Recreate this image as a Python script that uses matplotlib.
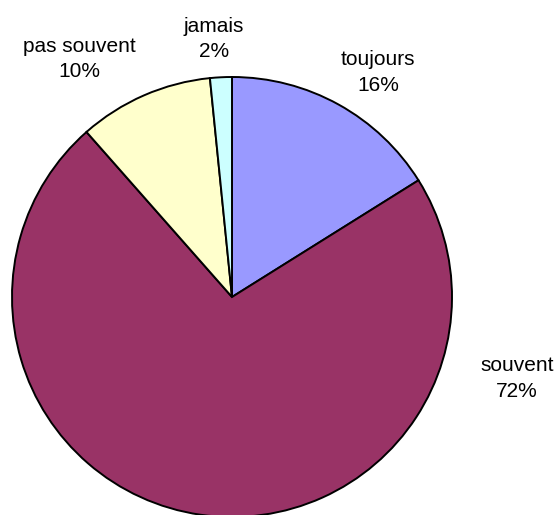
import matplotlib.pyplot as plt

plt.rcParams['font.family'] = ['Liberation Sans', 'DejaVu Sans']

# answers and their shares (percent)
categories = ["toujours", "souvent", "pas souvent", "jamais"]
values = [16.1, 72.4, 9.9, 1.6]
shown_pct = [16, 72, 10, 2]
colors = ["#9999FF", "#993366", "#FFFFCC", "#CCFFFF"]

# label anchor points (layout only)
label_xy = [(0.664, 1.02), (1.295, -0.37), (-0.695, 1.082), (-0.082, 1.173)]

fig = plt.figure(figsize=(5.57, 5.15), dpi=100)
ax = fig.add_axes([0, 0, 1, 1])

wedges, _ = ax.pie(values, colors=colors, startangle=90, counterclock=False,
                   wedgeprops=dict(edgecolor="black", linewidth=1.4))

for name, pct, (x, y) in zip(categories, shown_pct, label_xy):
    ax.text(x, y, f"{name}\n{pct}%", ha="center", va="center",
            fontsize=15, linespacing=1.45)

ax.set_aspect("equal")
ax.set_xlim(-232 / 220, (557 - 232) / 220)
ax.set_ylim(-(515 - 297) / 220, 297 / 220)
ax.axis("off")

fig.savefig("out.png", dpi=100)
